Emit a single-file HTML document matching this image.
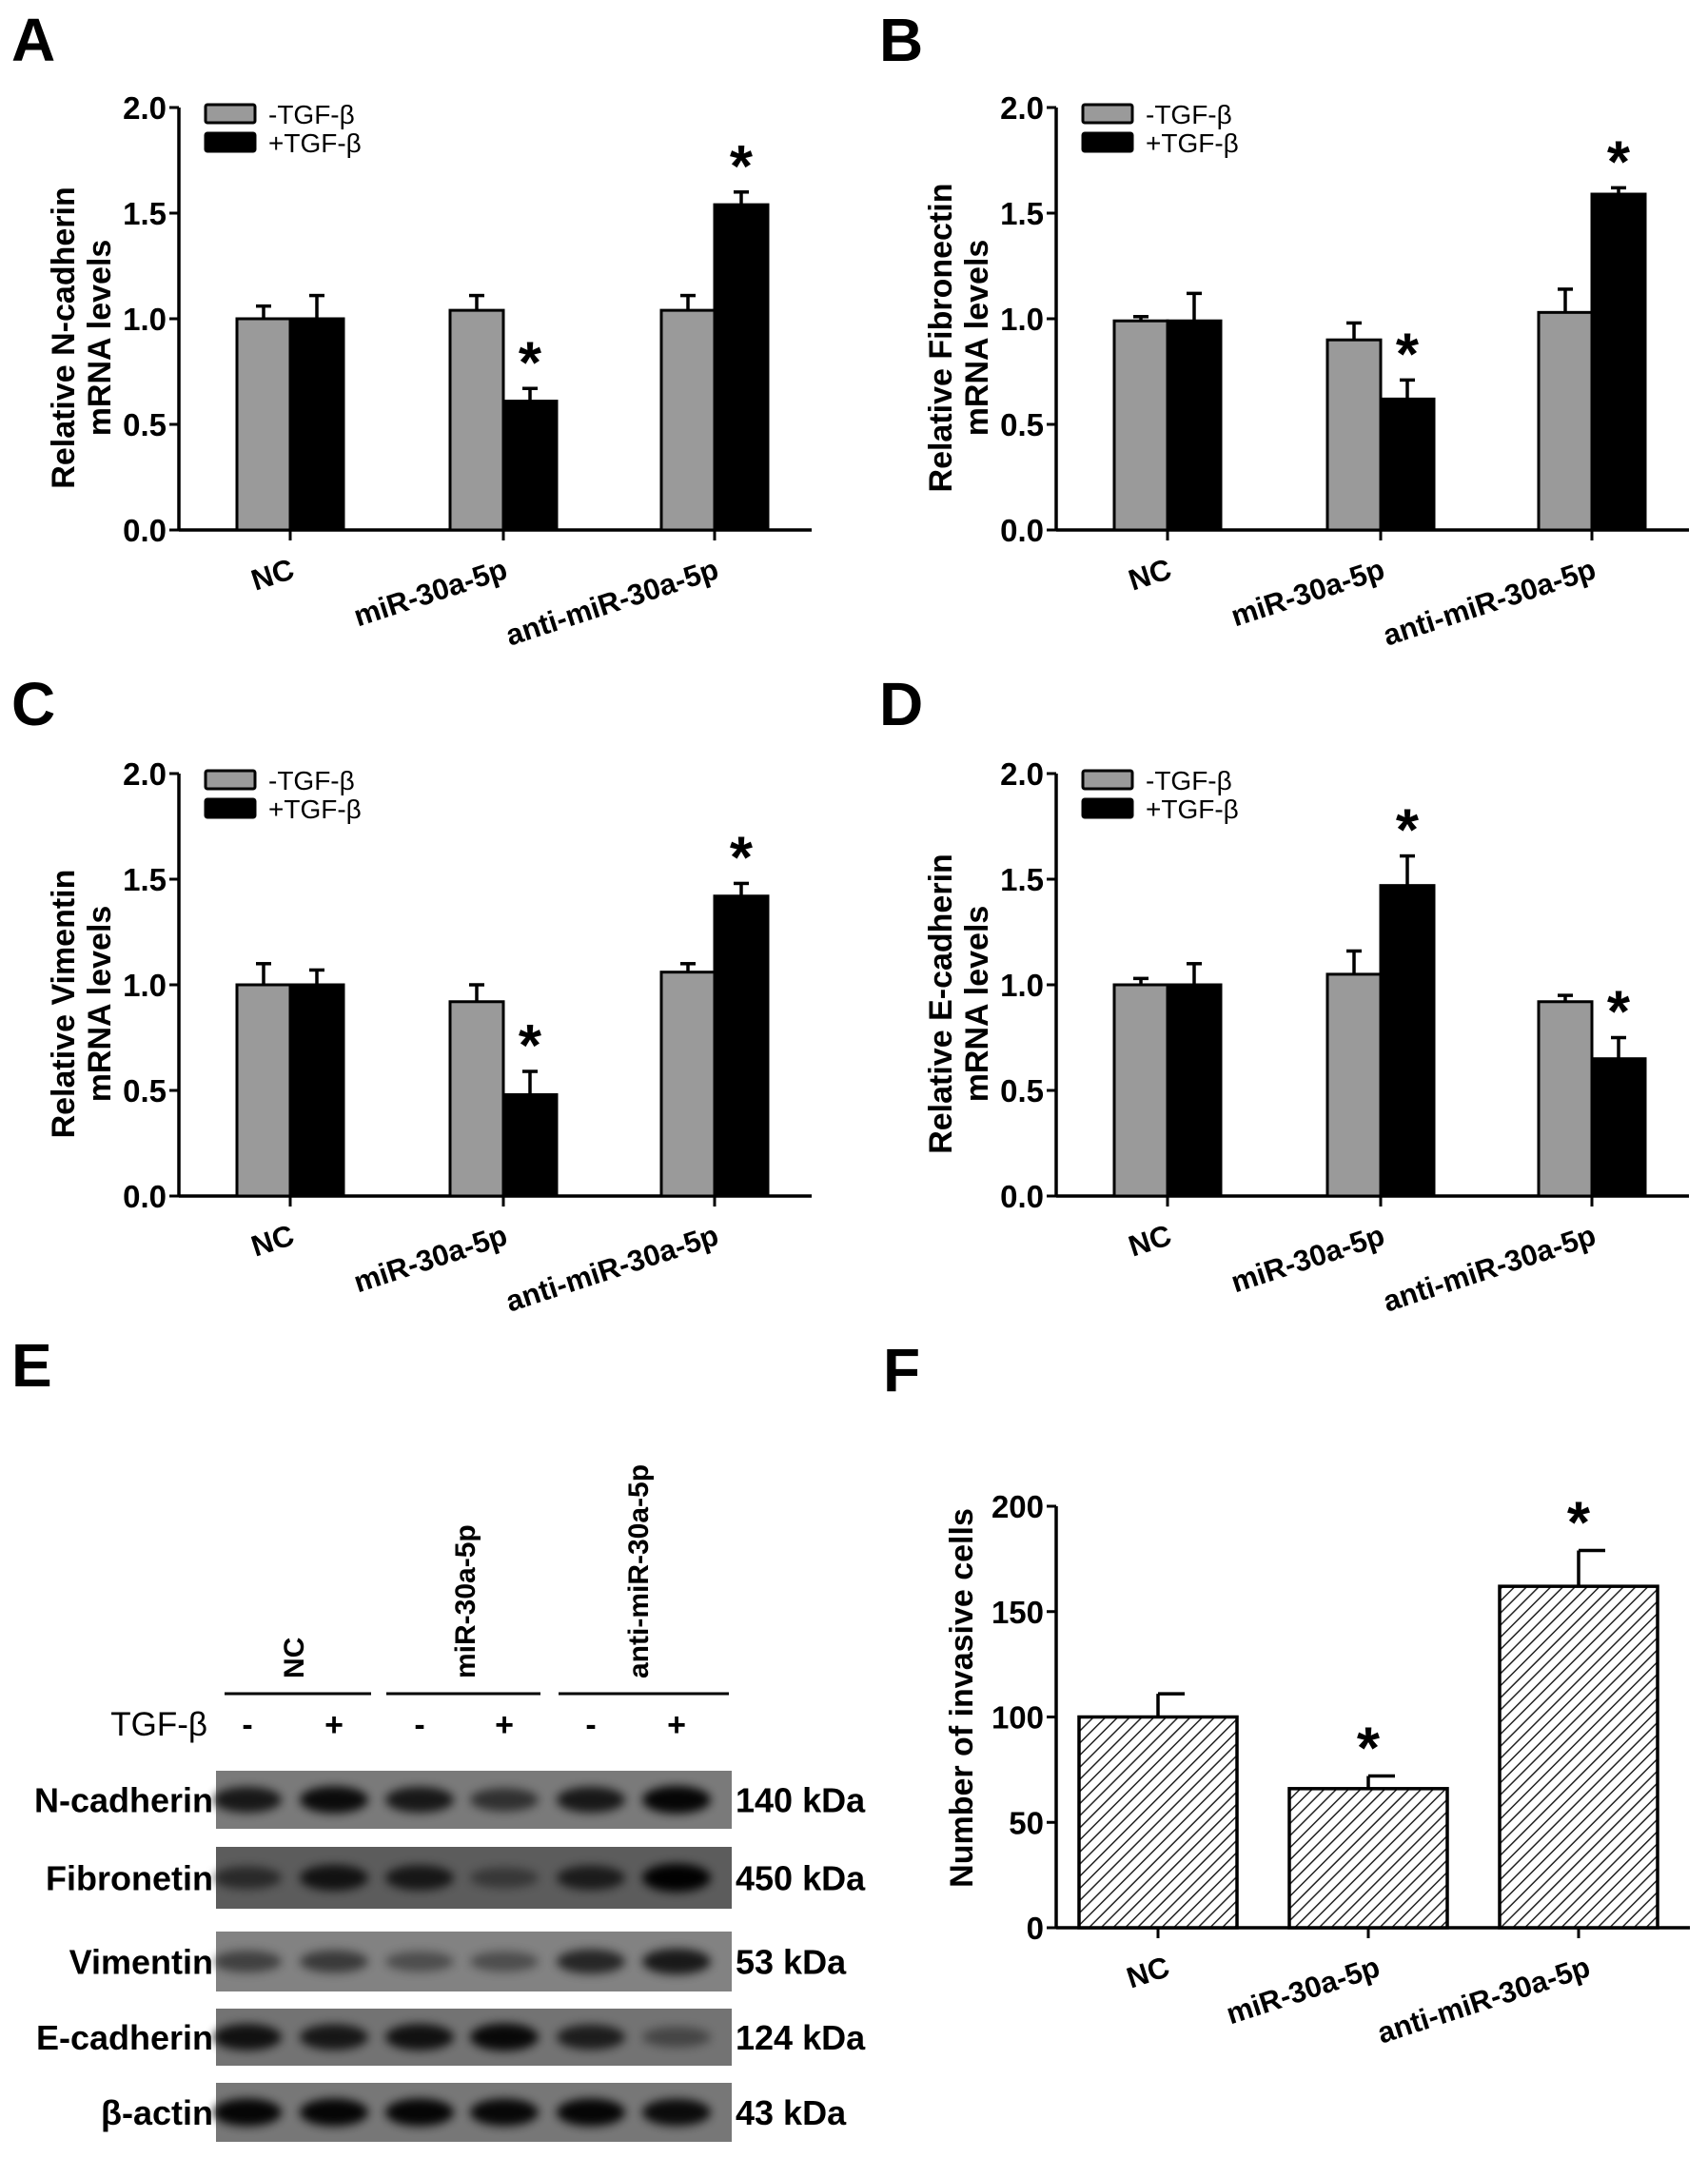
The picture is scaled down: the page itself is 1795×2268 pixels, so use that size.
<!DOCTYPE html>
<html><head><meta charset="utf-8"><style>
body{margin:0;background:#fff}
text{font-family:"Liberation Sans",Arial,sans-serif;font-weight:bold;fill:#000}
</style></head><body>
<svg id="fig" width="1795" height="2263" viewBox="0 0 1795 2263" xmlns="http://www.w3.org/2000/svg">
<defs>
<pattern id="hatch" patternUnits="userSpaceOnUse" width="9" height="9" patternTransform="rotate(45)">
<rect width="9" height="9" fill="#fff"/><line x1="0" y1="0" x2="0" y2="9" stroke="#222" stroke-width="3"/>
</pattern>
<filter id="blur" x="-20%" y="-50%" width="140%" height="200%"><feGaussianBlur stdDeviation="5"/></filter>
</defs>
</svg>
<script>
const categories = ["NC","miR-30a-5p","anti-miR-30a-5p"];
const seriesNames = ["-TGF-β","+TGF-β"];
const yTicks = [0,0.5,1.0,1.5,2.0];
const yTickLabels = ["0.0","0.5","1.0","1.5","2.0"];
const aMinus = [1.00,1.04,1.04], aMinusErr=[0.06,0.07,0.07];
const aPlus = [1.00,0.61,1.54], aPlusErr=[0.11,0.06,0.06];
const aStars = [false,true,true];
const bMinus = [0.99,0.90,1.03], bMinusErr=[0.02,0.08,0.11];
const bPlus = [0.99,0.62,1.59], bPlusErr=[0.13,0.09,0.03];
const bStars = [false,true,true];
const cMinus = [1.00,0.92,1.06], cMinusErr=[0.10,0.08,0.04];
const cPlus = [1.00,0.48,1.42], cPlusErr=[0.07,0.11,0.06];
const cStars = [false,true,true];
const dMinus = [1.00,1.05,0.92], dMinusErr=[0.03,0.11,0.03];
const dPlus = [1.00,1.47,0.65], dPlusErr=[0.10,0.14,0.10];
const dStars = [false,true,true];
const fValues = [100,66,162], fErr=[11,6,17];
const fStars = [false,true,true];
const fTicks = [0,50,100,150,200];
const blotRows = ["N-cadherin","Fibronetin","Vimentin","E-cadherin","β-actin"];
const blotKDa = ["140 kDa","450 kDa","53 kDa","124 kDa","43 kDa"];
const blotIntensity = [[.8,.9,.8,.6,.8,.95],[.55,.8,.75,.4,.7,.98],[.5,.55,.4,.4,.7,.8],[.85,.8,.85,.92,.75,.4],[.95,.95,.95,.93,.95,.9]];
const tgfSigns = ["-","+","-","+","-","+"];

const svg=document.getElementById('fig');
const NS="http://www.w3.org/2000/svg";
function el(tag,attrs,parent,txt){const e=document.createElementNS(NS,tag);for(const k in attrs)e.setAttribute(k,attrs[k]);if(txt!==undefined)e.textContent=txt;(parent||svg).appendChild(e);return e;}

function letter(t,x,y){const e=el('text',{x:x,y:y,'font-size':64},svg,t);

}
letter('A',12,64);letter('B',924,64);letter('C',12,762);letter('D',924,762);letter('E',12,1457);letter('F',928,1462);

function axisY(g,ax,y0,yTop,max,ticks,labels){
  const ys=v=>y0-(v/max)*(y0-yTop);
  const a=el('line',{x1:ax,y1:y0,x2:ax,y2:yTop,stroke:'#000','stroke-width':3.5},g);
  
  
  ticks.forEach((t,i)=>{
    el('line',{x1:ax-10,y1:ys(t),x2:ax,y2:ys(t),stroke:'#000','stroke-width':3},g);
    const tl=el('text',{x:ax-13,y:ys(t)+12,'font-size':33,'text-anchor':'end'},g,labels[i]);
    
    
  });
  return ys;
}

function barPanel(name,ox,oy,minus,minusErr,plus,plusErr,stars,label1,label2){
  const g=el('g',{transform:`translate(${ox},${oy})`});
  
  
  const ax=188,y0=557,yTop=113,xEnd=853;
  const ys=axisY(g,ax,y0,yTop,2,yTicks,yTickLabels);
  const xa=el('line',{x1:ax,y1:y0,x2:xEnd,y2:y0,stroke:'#000','stroke-width':3.5},g);
  
  
  const centers=[305,529,751], bw=56;
  categories.forEach((c,i)=>{
    const cx=centers[i];
    el('line',{x1:cx,y1:y0,x2:cx,y2:y0+11,stroke:'#000','stroke-width':3},g);
    [[minus,minusErr,'#9a9a9a',cx-bw],[plus,plusErr,'#000',cx]].forEach((s,j)=>{
      const v=s[0][i],e=s[1][i],x=s[3];
      const r=el('rect',{x:x,y:ys(v),width:bw,height:y0-ys(v),fill:s[2],stroke:'#000','stroke-width':3},g);
      
      
      el('line',{x1:x+bw/2,y1:ys(v),x2:x+bw/2,y2:ys(v+e),stroke:'#000','stroke-width':3.5},g);
      el('line',{x1:x+bw/2-8,y1:ys(v+e),x2:x+bw/2+8,y2:ys(v+e),stroke:'#000','stroke-width':3.5},g);
    });
    if(stars[i]){const st=el('text',{x:cx+bw/2,y:ys(plus[i]+plusErr[i])-6,'font-size':62,'text-anchor':'middle'},g,'*');
      
      }
    const t=el('text',{x:cx+6,y:y0+50,'font-size':31,'text-anchor':'end',transform:`rotate(-18 ${cx+6} ${y0+50})`},g,c);
    
    
  });
  const yl=el('text',{'font-size':34,'text-anchor':'middle',transform:`translate(78,${(y0+yTop)/2+20}) rotate(-90)`},g);
  
  
  el('tspan',{x:0,dy:0},yl,label1);el('tspan',{x:0,dy:38},yl,label2);
  [['#9a9a9a',110],['#000',140]].forEach((s,j)=>{
    const r=el('rect',{x:216,y:s[1],width:52,height:19,fill:s[0],stroke:'#000','stroke-width':3,rx:2},g);
    
    
    const lt=el('text',{x:282,y:s[1]+20,'font-size':28,style:'font-weight:normal'},g,seriesNames[j]);
    
    
  });
}
barPanel('panel-a',0,0,aMinus,aMinusErr,aPlus,aPlusErr,aStars,'Relative N-cadherin','mRNA levels');
barPanel('panel-b',922,0,bMinus,bMinusErr,bPlus,bPlusErr,bStars,'Relative Fibronectin','mRNA levels');
barPanel('panel-c',0,700,cMinus,cMinusErr,cPlus,cPlusErr,cStars,'Relative Vimentin','mRNA levels');
barPanel('panel-d',922,700,dMinus,dMinusErr,dPlus,dPlusErr,dStars,'Relative E-cadherin','mRNA  levels');

// Panel F
(function(){
  const g=el('g',{});
  
  
  const ax=1110,y0=2026,yTop=1583,xEnd=1776;
  const ys=axisY(g,ax,y0,yTop,200,fTicks,fTicks.map(String));
  const xa=el('line',{x1:ax,y1:y0,x2:xEnd,y2:y0,stroke:'#000','stroke-width':3.5},g);
  
  
  const centers=[1217,1438,1659],bw=166;
  categories.forEach((c,i)=>{
    const cx=centers[i],v=fValues[i],e=fErr[i];
    el('line',{x1:cx,y1:y0,x2:cx,y2:y0+11,stroke:'#000','stroke-width':3},g);
    const r=el('rect',{x:cx-bw/2,y:ys(v),width:bw,height:y0-ys(v),fill:'url(#hatch)',stroke:'#000','stroke-width':3.5},g);
    
    
    el('line',{x1:cx,y1:ys(v),x2:cx,y2:ys(v+e),stroke:'#000','stroke-width':3.5},g);
    el('line',{x1:cx,y1:ys(v+e),x2:cx+28,y2:ys(v+e),stroke:'#000','stroke-width':3.5},g);
    if(fStars[i]){const st=el('text',{x:cx,y:ys(v+e)-8,'font-size':62,'text-anchor':'middle'},g,'*');
      
      }
    const t=el('text',{x:cx+14,y:y0+50,'font-size':31,'text-anchor':'end',transform:`rotate(-18 ${cx+14} ${y0+50})`},g,c);
    
    
  });
  const yl=el('text',{'font-size':34,'text-anchor':'middle',transform:`translate(1022,${(y0+yTop)/2-20}) rotate(-90)`},g,'Number of invasive cells');
  
  
})();

// Panel E
(function(){
  const g=el('g',{});
  
  
  const lanes=[260,351,441,530,621,711];
  const groupLines=[[236,390,308],[406,568,488],[587,766,670]];
  groupLines.forEach((l,i)=>{
    el('line',{x1:l[0],y1:1780,x2:l[1],y2:1780,stroke:'#000','stroke-width':3},g);
    const t=el('text',{'font-size':30,transform:`translate(${l[2]+11},1764) rotate(-90)`},g,categories[i]);
    
    
  });
  const tl=el('text',{x:218,y:1824,'font-size':35,'text-anchor':'end',style:'font-weight:normal'},g,'TGF-β');
  
  
  lanes.forEach((x,i)=>{el('text',{x:x,y:1824,'font-size':34,'text-anchor':'middle'},g,tgfSigns[i]);});
  const rowY=[[1861,1922],[1941,2006],[2030,2093],[2111,2171],[2189,2251]];
  const bgs=['#7a7a7a','#5c5c5c','#828282','#737373','#777'];
  blotRows.forEach((n,r)=>{
    const [t,b]=rowY[r];
    const s=el('rect',{x:227,y:t,width:542,height:b-t,fill:bgs[r]},g);
    
    
    blotIntensity[r].forEach((v,i)=>{
      const bd=el('ellipse',{cx:lanes[i],cy:(t+b)/2,rx:36,ry:8+v*7,fill:'#000',opacity:v,filter:'url(#blur)'},g);
      
      
    });
    const lt=el('text',{x:224,y:(t+b)/2+13,'font-size':36,'text-anchor':'end'},g,n);
    
    
    const kt=el('text',{x:773,y:(t+b)/2+13,'font-size':36},g,blotKDa[r]);
    
    
  });
})();
</script>
</body></html>
